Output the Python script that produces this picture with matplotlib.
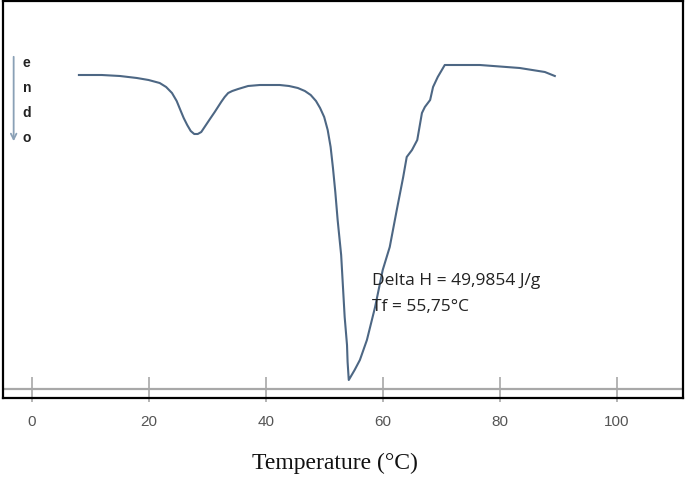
import matplotlib
matplotlib.use("Agg")
import matplotlib.pyplot as plt

# DSC curve (temperature in °C, heat flow in arbitrary units)
temperature = [8.1, 12.0, 15.1, 18.0, 20.0, 21.9, 23.0, 24.0, 24.8, 25.5, 26.0, 26.6, 27.2,
               27.8, 28.4, 29.0, 29.8, 30.6, 31.3, 32.4, 33.0, 33.6, 34.3, 35.3, 37.0, 39.0,
               42.4, 44.0, 45.5, 46.7, 47.7, 48.6, 49.3, 50.0, 50.6, 51.1, 51.5, 51.9, 52.3,
               52.9, 53.5, 53.9, 54.0, 54.2, 54.6, 55.2, 56.1, 57.3, 58.7, 60.0, 61.2, 62.4,
               63.5, 64.1, 65.0, 65.9, 66.7, 67.2, 68.1, 68.6, 69.4, 70.6, 76.6, 83.4, 87.7,
               89.4]
heat_flow = [31.5, 31.5, 31.4, 31.2, 31.0, 30.7, 30.3, 29.7, 28.9, 27.9, 27.2, 26.5, 25.9,
             25.6, 25.6, 25.8, 26.5, 27.2, 27.8, 28.8, 29.3, 29.7, 29.9, 30.1, 30.4, 30.5,
             30.5, 30.4, 30.2, 29.9, 29.5, 28.9, 28.2, 27.3, 26.0, 24.3, 22.2, 19.8, 17.0,
             13.5, 7.3, 4.5, 2.8, 1.0, 1.4, 2.0, 3.0, 5.0, 8.3, 12.0, 14.3, 18.0,
             21.3, 23.3, 24.0, 25.0, 27.7, 28.3, 29.0, 30.3, 31.3, 32.5, 32.5, 32.2, 31.8,
             31.4]

ticks = [0, 20, 40, 60, 80, 100]
tick_labels = ["0", "20", "40", "60", "80", "100"]
baseline = 0.1
endo_letters = ["e", "n", "d", "o"]
annotation = ["Delta H = 49,9854 J/g", "Tf = 55,75°C"]

fig = plt.figure(figsize=(6.85, 4.78), dpi=100)
ax = fig.add_axes([3 / 685, 80 / 478, 680 / 685, 397 / 478])
ax.set_xlim(-4.87, 111.3)
ax.set_ylim(-0.8, 38.9)

for s in ax.spines.values():
    s.set_linewidth(1.6)
    s.set_color("black")

# baseline and tick marks
ax.axhline(baseline, color="#a8a8a8", lw=1.6, zorder=1)
ax.vlines(ticks, -1.2, 1.3, color="#a8a8a8", lw=1.2, clip_on=False, zorder=1)

ax.plot(temperature, heat_flow, color="#4d6784", lw=1.5, zorder=3)

ax.set_yticks([])
ax.set_xticks(ticks)
ax.set_xticklabels(tick_labels, fontsize=11, color="#555555", family="Liberation Sans")
ax.tick_params(axis="x", length=0, pad=12)

fig.text(334.5 / 685, 1 - 463 / 478, "Temperature (°C)", ha="center", va="center",
         fontsize=17, family="Liberation Serif", color="#111111")

# endo arrow
ax.annotate("", xy=(-3.05, 24.6), xytext=(-3.05, 33.6),
            arrowprops=dict(arrowstyle="->", color="#8aa0b6", lw=1.3))
for i, ch in enumerate(endo_letters):
    ax.text(-0.8, 32.7 - i * 2.5, ch, fontsize=10, fontweight="bold", color="#222222",
            ha="center", va="center", family="Liberation Sans")

ax.text(58.2, 10.9, annotation[0], fontsize=12.5, color="#222222", va="center",
        family="Open Sans")
ax.text(58.2, 8.3, annotation[1], fontsize=12.5, color="#222222", va="center",
        family="Open Sans")

fig.savefig("out.png", dpi=100)
